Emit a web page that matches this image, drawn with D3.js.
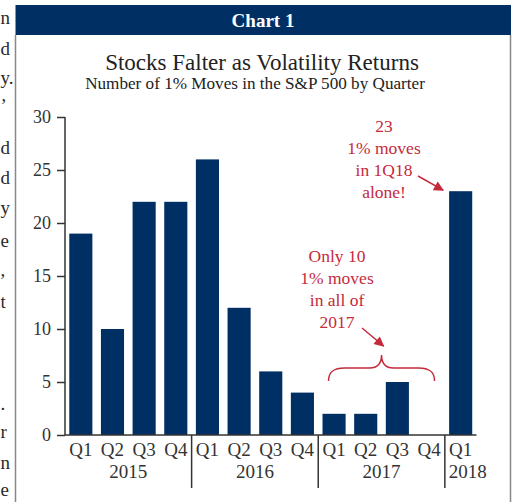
<!DOCTYPE html>
<html>
<head>
<meta charset="utf-8">
<script src="https://cdn.jsdelivr.net/npm/d3@7"></script>
<style>
  html, body { margin: 0; padding: 0; background: #fff; }
  svg { display: block; }
  text { font-family: "Liberation Serif", "DejaVu Serif", serif; }
</style>
</head>
<body>
<svg id="chart" width="515" height="502"></svg>
<script>
// ---- data ----
const quarters = ["Q1","Q2","Q3","Q4","Q1","Q2","Q3","Q4","Q1","Q2","Q3","Q4","Q1"];
const years    = ["2015","2015","2015","2015","2016","2016","2016","2016","2017","2017","2017","2017","2018"];
const moves    = [19, 10, 22, 22, 26, 12, 6, 4, 2, 2, 5, 0, 23];
const yTicks   = [0, 5, 10, 15, 20, 25, 30];
const yearGroups = ["2015","2016","2017","2018"];
const header   = "Chart 1";
const title    = "Stocks Falter as Volatility Returns";
const subtitle = "Number of 1% Moves in the S&P 500 by Quarter";
const note2018 = ["23", "1% moves", "in 1Q18", "alone!"];
const note2017 = ["Only 10", "1% moves", "in all of", "2017"];
const sideText = [["n",24],["d",55],["y.",84],["\u2019",112],["d",154],["d",184],["y",214],["e",247],[",",276],["t",308],[".",410],["r",438],["n",469],["e",496]];

// ---- styles ----
const navy = "#003063";
const red = "#c52a3c";
const ink = "#333";

const svg = d3.select("#chart");
const keys = quarters.map((q, i) => i);

// side body text (cropped column of the surrounding article)
svg.append("g").selectAll("text").data(sideText).join("text")
  .attr("x", 0.5).attr("y", d => d[1]).attr("text-anchor", "start")
  .attr("font-size", 19).attr("fill", "#2a2a2a").text(d => d[0]);

// frame
svg.append("rect").attr("x", 15.5).attr("y", 5).attr("width", 495.5).attr("height", 30).attr("fill", navy);
svg.append("line").attr("x1", 15.5).attr("x2", 15.5).attr("y1", 35).attr("y2", 502).attr("stroke", "#888").attr("stroke-width", 1.5);
svg.append("line").attr("x1", 510.5).attr("x2", 510.5).attr("y1", 35).attr("y2", 502).attr("stroke", "#888").attr("stroke-width", 1.5);

svg.append("text").attr("x", 263).attr("y", 27).attr("text-anchor", "middle")
  .attr("font-size", 19).attr("font-weight", "bold").attr("fill", "#fff").text(header);

function fitText(sel, width) {
  const w = sel.node().getComputedTextLength();
  const fs = parseFloat(sel.attr("font-size"));
  sel.attr("font-size", fs * width / w);
}
const t1 = svg.append("text").attr("x", 262).attr("y", 70).attr("text-anchor", "middle")
  .attr("font-size", 22).attr("fill", "#222").text(title);
fitText(t1, 314);
const t2 = svg.append("text").attr("x", 255).attr("y", 89).attr("text-anchor", "middle")
  .attr("font-size", 15).attr("fill", "#222").text(subtitle);
fitText(t2, 340);

// ---- scales ----
const x = d3.scaleBand().domain(keys).range([65, 476.5]).paddingInner(0.27).paddingOuter(0.135);
const y = d3.scaleLinear().domain([0, 30]).range([435, 117]);

// bars
svg.append("g").selectAll("rect").data(moves).join("rect")
  .attr("x", (d, i) => x(i)).attr("width", x.bandwidth())
  .attr("y", d => y(d)).attr("height", d => y(0) - y(d))
  .attr("fill", navy);

// y axis
const yAxis = svg.append("g").attr("transform", "translate(65,0)")
  .call(d3.axisLeft(y).tickValues(yTicks).tickSize(8).tickPadding(6));
yAxis.attr("font-family", null).attr("font-size", null);
yAxis.select(".domain").attr("stroke", ink).attr("stroke-width", 1.5).attr("d", `M0,${y(30)}V${y(0)}`);
yAxis.selectAll(".tick line").attr("stroke", ink).attr("stroke-width", 1.5);
yAxis.selectAll(".tick text").attr("font-size", 18).attr("fill", ink);

// x axis (baseline with quarter labels)
const xAxis = svg.append("g").attr("transform", `translate(0,${y(0)})`)
  .call(d3.axisBottom(x).tickSize(0).tickPadding(8).tickFormat(i => quarters[i]));
xAxis.attr("font-family", null).attr("font-size", null);
xAxis.select(".domain").attr("stroke", ink).attr("stroke-width", 1.5).attr("d", "M65,0H476.5");
xAxis.selectAll(".tick text").attr("font-size", 19).attr("fill", ink);

// year groups
const step = x.step();
const groupInfo = yearGroups.map(yr => {
  const idx = years.map((v, i) => v === yr ? i : -1).filter(i => i >= 0);
  const start = x(idx[0]) - x.paddingInner() * step / 2;
  const end = x(idx[idx.length - 1]) + x.bandwidth() + x.paddingInner() * step / 2;
  return { yr, start, end, mid: (start + end) / 2 };
});
svg.append("g").selectAll("text").data(groupInfo).join("text")
  .attr("y", 478).attr("text-anchor", "start")
  .attr("font-size", 19).attr("fill", ink).text(d => d.yr)
  .each(function(d) {
    const w = this.getComputedTextLength();
    const left = Math.max(d.mid - w / 2, d.start + 4);
    d3.select(this).attr("x", left);
  });
svg.append("g").selectAll("line").data(groupInfo.slice(1)).join("line")
  .attr("x1", d => d.start).attr("x2", d => d.start)
  .attr("y1", y(0)).attr("y2", 488).attr("stroke", ink).attr("stroke-width", 1.5);

// arrowhead
svg.append("defs").append("marker").attr("id", "arrow")
  .attr("viewBox", "0 0 10 10").attr("refX", 9).attr("refY", 5)
  .attr("markerWidth", 11).attr("markerHeight", 10).attr("markerUnits", "userSpaceOnUse")
  .attr("orient", "auto")
  .append("path").attr("d", "M0,0L10,5L0,10Z").attr("fill", red);

// annotation 2018
const last = moves.length - 1;
svg.append("g").selectAll("text").data(note2018).join("text")
  .attr("x", 384).attr("y", (d, i) => 132 + i * 22).attr("text-anchor", "middle")
  .attr("font-size", 17.5).attr("fill", red).text(d => d);
svg.append("line").attr("x1", 418).attr("y1", 176)
  .attr("x2", x(last) - 6).attr("y2", y(moves[last]) - 1)
  .attr("stroke", red).attr("stroke-width", 1.5).attr("marker-end", "url(#arrow)");

// annotation 2017
const g17 = groupInfo.find(d => d.yr === "2017");
svg.append("g").selectAll("text").data(note2017).join("text")
  .attr("x", 337).attr("y", (d, i) => 262 + i * 22).attr("text-anchor", "middle")
  .attr("font-size", 17.5).attr("fill", red).text(d => d);
svg.append("line").attr("x1", 362).attr("y1", 328)
  .attr("x2", g17.mid + 2).attr("y2", 346)
  .attr("stroke", red).attr("stroke-width", 1.5).attr("marker-end", "url(#arrow)");

// brace over 2017
const c = g17.mid, hw = 53, yb = 381, yh = 368, yt = 355;
const brace = `M${c - hw},${yb} C${c - hw},${yh + 3} ${c - hw + 6},${yh} ${c - hw + 16},${yh}`
  + ` L${c - 12},${yh} C${c - 5},${yh} ${c},${yh - 4} ${c},${yt}`
  + ` C${c},${yh - 4} ${c + 5},${yh} ${c + 12},${yh}`
  + ` L${c + hw - 16},${yh} C${c + hw - 6},${yh} ${c + hw},${yh + 3} ${c + hw},${yb}`;
svg.append("path").attr("d", brace).attr("fill", "none").attr("stroke", red).attr("stroke-width", 1.5);
</script>
</body>
</html>
